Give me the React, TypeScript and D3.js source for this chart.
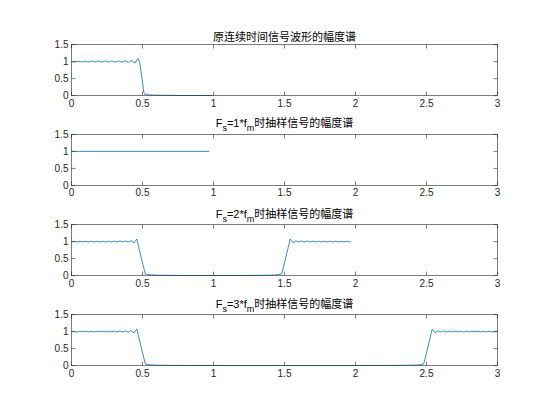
import React from 'react';
import * as d3 from 'd3';

// frequency axis and magnitude axis ticks
const xTicks = [0, 0.5, 1, 1.5, 2, 2.5, 3];
const yTicks = [0, 0.5, 1, 1.5];

const titles = [
  '原连续时间信号波形的幅度谱',
  'F_s=1*f_m时抽样信号的幅度谱',
  'F_s=2*f_m时抽样信号的幅度谱',
  'F_s=3*f_m时抽样信号的幅度谱',
];

// [frequency, magnitude]
const origSpectrum: [number, number][] = [
  [0.00, 1.000], [0.01, 0.995], [0.02, 0.990], [0.03, 0.995], [0.04, 1.005],
  [0.05, 1.010], [0.06, 1.000], [0.07, 0.990], [0.08, 0.995], [0.09, 1.010],
  [0.10, 1.010], [0.11, 0.995], [0.12, 0.988], [0.13, 1.000], [0.14, 1.012],
  [0.15, 1.008], [0.16, 0.992], [0.17, 0.990], [0.18, 1.005], [0.19, 1.015],
  [0.20, 1.002], [0.21, 0.988], [0.22, 0.993], [0.23, 1.010], [0.24, 1.014],
  [0.25, 0.998], [0.26, 0.986], [0.27, 0.996], [0.28, 1.014], [0.29, 1.012],
  [0.30, 0.993], [0.31, 0.985], [0.32, 1.002], [0.33, 1.018], [0.34, 1.008],
  [0.35, 0.986], [0.36, 0.988], [0.37, 1.012], [0.38, 1.022], [0.39, 0.998],
  [0.40, 0.978], [0.41, 0.992], [0.42, 1.030], [0.43, 1.020], [0.44, 0.968],
  [0.45, 0.972], [0.46, 1.060], [0.47, 1.090], [0.48, 0.980], [0.49, 0.700],
  [0.50, 0.400], [0.51, 0.080], [0.52, 0.020], [0.53, 0.045], [0.54, 0.030],
  [0.55, 0.008], [0.56, 0.022], [0.57, 0.025], [0.58, 0.010], [0.59, 0.012],
  [0.60, 0.018], [0.62, 0.008], [0.64, 0.012], [0.66, 0.006], [0.70, 0.008],
  [0.75, 0.004], [0.80, 0.005], [0.90, 0.003], [0.99, 0.002],
];

const fs1Spectrum: [number, number][] = [
  [0.00, 1.0], [0.97, 1.0],
];

const fs2Spectrum: [number, number][] = [
  [0.00, 1.000], [0.02, 1.000], [0.04, 0.990], [0.06, 1.010], [0.08, 0.992],
  [0.10, 1.008], [0.12, 0.990], [0.14, 1.010], [0.16, 0.992], [0.18, 1.012],
  [0.20, 0.990], [0.22, 1.010], [0.24, 0.990], [0.26, 1.012], [0.28, 0.992],
  [0.30, 1.014], [0.32, 0.990], [0.34, 1.016], [0.36, 0.988], [0.38, 1.020],
  [0.40, 0.985], [0.42, 1.025], [0.44, 0.965], [0.46, 1.075], [0.48, 0.720],
  [0.50, 0.380], [0.52, 0.050], [0.54, 0.030], [0.56, 0.020], [0.60, 0.012],
  [0.70, 0.006], [0.80, 0.004], [1.00, 0.002], [1.20, 0.004], [1.30, 0.006],
  [1.40, 0.012], [1.44, 0.020], [1.46, 0.030], [1.48, 0.050], [1.50, 0.380],
  [1.52, 0.720], [1.54, 1.075], [1.56, 0.965], [1.58, 1.025], [1.60, 0.985],
  [1.62, 1.020], [1.64, 0.988], [1.66, 1.016], [1.68, 0.990], [1.70, 1.014],
  [1.72, 0.992], [1.74, 1.012], [1.76, 0.990], [1.78, 1.010], [1.80, 0.990],
  [1.82, 1.012], [1.84, 0.992], [1.86, 1.010], [1.88, 0.990], [1.90, 1.008],
  [1.92, 0.992], [1.94, 1.010], [1.96, 0.990], [1.97, 1.000],
];

const fs3Spectrum: [number, number][] = [
  [0.00, 1.000], [0.02, 1.000], [0.04, 0.990], [0.06, 1.010], [0.08, 0.992],
  [0.10, 1.008], [0.12, 0.990], [0.14, 1.010], [0.16, 0.992], [0.18, 1.012],
  [0.20, 0.990], [0.22, 1.010], [0.24, 0.990], [0.26, 1.012], [0.28, 0.992],
  [0.30, 1.014], [0.32, 0.990], [0.34, 1.016], [0.36, 0.988], [0.38, 1.020],
  [0.40, 0.985], [0.42, 1.025], [0.44, 0.965], [0.46, 1.075], [0.48, 0.720],
  [0.50, 0.380], [0.52, 0.050], [0.54, 0.030], [0.56, 0.020], [0.60, 0.012],
  [0.70, 0.006], [0.80, 0.004], [1.00, 0.002], [1.50, 0.001], [2.00, 0.002],
  [2.20, 0.004], [2.30, 0.006], [2.40, 0.012], [2.44, 0.020], [2.46, 0.030],
  [2.48, 0.050], [2.50, 0.380], [2.52, 0.720], [2.54, 1.075], [2.56, 0.965],
  [2.58, 1.025], [2.60, 0.985], [2.62, 1.020], [2.64, 0.988], [2.66, 1.016],
  [2.68, 0.990], [2.70, 1.014], [2.72, 0.992], [2.74, 1.012], [2.76, 0.990],
  [2.78, 1.010], [2.80, 0.990], [2.82, 1.012], [2.84, 0.992], [2.86, 1.010],
  [2.88, 0.990], [2.90, 1.008], [2.92, 0.992], [2.94, 1.010], [2.96, 0.990],
  [2.98, 1.000], [3.00, 1.000],
];

const spectra = [origSpectrum, fs1Spectrum, fs2Spectrum, fs3Spectrum];

const W = 550;
const H = 413;
const left = 71.5;
const right = 497.5;
const tops = [44.6, 134.4, 224.6, 314.6];
const axH = 51;
const tickLen = 4;
const FONT = '"Liberation Sans", Arial, "Noto Sans CJK SC", sans-serif';
const AXIS = '#262626';
const LINE = '#0072BD';
const SUB_DROP = 4;

// renders "F_s=2*f_m..." with subscripts
const TitleText: React.FC<{ text: string; x: number; y: number }> = ({ text, x, y }) => {
  const parts = text.split(/_(\w)/);
  const hasSub = parts.length > 1;
  return (
    <text x={x} y={hasSub ? y - 3 : y} textAnchor="middle" fontSize={11} fill="#000" fontFamily={FONT}>
      {parts.map((p, i) =>
        i % 2 === 1 ? (
          <tspan key={i} dy={SUB_DROP} fontSize={9}>{p}</tspan>
        ) : (
          <tspan key={i} dy={i > 0 ? -SUB_DROP : 0}>{p}</tspan>
        )
      )}
    </text>
  );
};

const Panel: React.FC<{ idx: number }> = ({ idx }) => {
  const top = tops[idx];
  const bottom = top + axH;
  const x = d3.scaleLinear().domain([0, 3]).range([left, right]);
  const y = d3.scaleLinear().domain([0, 1.5]).range([bottom, top]);
  const line = d3.line<[number, number]>().x(d => x(d[0])).y(d => y(d[1]));

  return (
    <g>
      <TitleText text={titles[idx]} x={(left + right) / 2} y={top - 4} />
      <rect x={left} y={top} width={right - left} height={axH} fill="#fff" />
      <path d={line(spectra[idx]) || ''} fill="none" stroke={LINE} strokeWidth={0.8} />
      {xTicks.map(t => (
        <g key={'x' + t}>
          <line x1={x(t)} x2={x(t)} y1={bottom} y2={bottom - tickLen} stroke={AXIS} strokeWidth={0.6} />
          <line x1={x(t)} x2={x(t)} y1={top} y2={top + tickLen} stroke={AXIS} strokeWidth={0.6} />
          <text x={x(t)} y={bottom + 11} textAnchor="middle" fontSize={10} fill={AXIS} fontFamily={FONT}>
            {String(t)}
          </text>
        </g>
      ))}
      {yTicks.map(t => (
        <g key={'y' + t}>
          <line x1={left} x2={left + tickLen} y1={y(t)} y2={y(t)} stroke={AXIS} strokeWidth={0.6} />
          <line x1={right} x2={right - tickLen} y1={y(t)} y2={y(t)} stroke={AXIS} strokeWidth={0.6} />
          <text x={left - 3} y={y(t) + 3.5} textAnchor="end" fontSize={10} fill={AXIS} fontFamily={FONT}>
            {String(t)}
          </text>
        </g>
      ))}
      <rect x={left} y={top} width={right - left} height={axH} fill="none" stroke={AXIS} strokeWidth={0.6} />
    </g>
  );
};

export default function App() {
  return (
    <svg
      width={W}
      height={H}
      viewBox={`0 0 ${W} ${H}`}
      style={{ position: 'absolute', left: 0, top: 0, background: '#fff' }}
    >
      <rect width={W} height={H} fill="#fff" />
      {titles.map((_, i) => (
        <Panel key={i} idx={i} />
      ))}
    </svg>
  );
}
